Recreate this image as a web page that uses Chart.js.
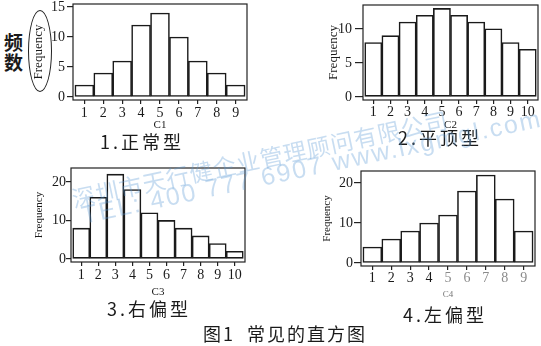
<!DOCTYPE html>
<html>
<head>
<meta charset="utf-8">
<script src="https://cdn.jsdelivr.net/npm/chart.js@4"></script>
<style>
    body { margin: 0; width: 541px; height: 346px; background: #fff; position: relative; overflow: hidden; }
    canvas { position: absolute; }
    .txt { position: absolute; white-space: nowrap; color: #1a1a1a; font-family: "Noto Sans CJK SC", sans-serif; }
    .caption { font-size: 18px; line-height: 20px; letter-spacing: 3px; }
    .wm { position: absolute; white-space: nowrap; color: rgba(95, 155, 215, 0.34); transform-origin: 0 50%; transform: rotate(-12deg); line-height: 24px; }
</style>
</head>
<body>

<canvas id="h1"></canvas>
<canvas id="h2"></canvas>
<canvas id="h3"></canvas>
<canvas id="h4"></canvas>

<div class="txt" style="left:4px; top:32px; font-size:19px; line-height:20px; font-weight:bold;">频<br>数</div>
<div style="position:absolute; left:28px; top:10px; width:22px; height:80px; border:1.5px solid #222; border-radius:50%;"></div>

<div class="txt caption" style="left:100px; top:131px;">1.正常型</div>
<div class="txt caption" style="left:398px; top:127px;">2.平顶型</div>
<div class="txt caption" style="left:107px; top:298px;">3.右偏型</div>
<div class="txt caption" style="left:403px; top:304px;">4.左偏型</div>
<div class="txt" style="left:203px; top:323px; font-size:18px; line-height:20px; letter-spacing:2px; word-spacing:6px;">图1 常见的直方图</div>

<div class="wm" style="left:72px; top:186px; font-family:'Noto Sans CJK SC'; font-size:23px; letter-spacing:1px;">深圳市天行健企业管理顾问有限公司</div>
<div class="wm" style="left:82px; top:203px; font-family:'Liberation Sans'; font-size:25px; letter-spacing:2px;">TEL: 400 777 6907 www.lxgmgl.com</div>

<script>
// date histograme
const c1Bins = [1, 2, 3, 4, 5, 6, 7, 8, 9];
const c1Freq = [2, 4, 6, 12, 14, 10, 6, 4, 2];
const c1Ticks = [0, 5, 10, 15];

const c2Bins = [1, 2, 3, 4, 5, 6, 7, 8, 9, 10];
const c2Freq = [8, 9, 11, 12, 13, 12, 11, 10, 8, 7];
const c2Ticks = [0, 5, 10];

const c3Bins = [1, 2, 3, 4, 5, 6, 7, 8, 9, 10];
const c3Freq = [8, 16, 22, 18, 12, 10, 8, 6, 4, 2];
const c3Ticks = [0, 10, 20];

const c4Bins = [1, 2, 3, 4, 5, 6, 7, 8, 9];
const c4Freq = [4, 6, 8, 10, 12, 18, 22, 16, 8];
const c4Ticks = [0, 10, 20];

const yTitle = 'Frequency';
const serif = '"Liberation Serif", "DejaVu Serif", serif';

// rama din jurul zonei graficului
const ramaPlugin = {
    id: 'rama',
    afterDatasetsDraw(chart) {
        const a = chart.chartArea;
        const ctx = chart.ctx;
        ctx.save();
        ctx.strokeStyle = '#222';
        ctx.lineWidth = 1.2;
        ctx.strokeRect(a.left, a.top, a.right - a.left, a.bottom - a.top);
        ctx.restore();
    }
};

function deseneazaHistograma(id, bins, freq, yTicks, xTitle, L) {
    const canvas = document.getElementById(id);
    canvas.width = L.w;
    canvas.height = L.h;
    canvas.style.left = L.left + 'px';
    canvas.style.top = L.top + 'px';

    return new Chart(canvas.getContext('2d'), {
        type: 'bar',
        data: {
            datasets: [{
                data: bins.map((b, i) => ({ x: b, y: freq[i] })),
                backgroundColor: '#fff',
                borderColor: '#1a1a1a',
                borderWidth: 1.6,
                borderSkipped: false,
                barPercentage: 1,
                categoryPercentage: 1
            }]
        },
        options: {
            responsive: false,
            animation: false,
            events: [],
            layout: { padding: { top: 14, right: L.padRight, left: 0, bottom: 0 } },
            plugins: { legend: { display: false }, tooltip: { enabled: false } },
            scales: {
                x: {
                    type: 'linear',
                    offset: false,
                    min: 0.4,
                    max: bins.length + 0.6,
                    afterBuildTicks: ax => { ax.ticks = bins.map(v => ({ value: v })); },
                    afterFit: ax => { ax.height = L.xH; },
                    grid: { offset: false, drawOnChartArea: false, tickLength: 4, color: '#222', lineWidth: 1.2 },
                    border: { display: false },
                    ticks: {
                        autoSkip: false, maxRotation: 0, padding: L.xPad,
                        font: { family: serif, size: 14 },
                        color: c => (L.fadeFrom && c.tick && c.tick.value >= L.fadeFrom) ? '#8a8a8a' : '#1a1a1a'
                    },
                    title: { display: true, text: xTitle, padding: 0, color: L.xTitleColor || '#1a1a1a', font: { family: serif, size: L.xTitleSize } }
                },
                y: {
                    min: L.yMin,
                    max: L.yMax,
                    afterBuildTicks: ax => { ax.ticks = yTicks.map(v => ({ value: v })); },
                    afterFit: ax => { ax.width = L.yW; },
                    grid: { drawOnChartArea: false, tickLength: L.yTick, color: '#222', lineWidth: 1.2 },
                    border: { display: false },
                    ticks: { padding: L.yPad, font: { family: serif, size: 14 }, color: '#1a1a1a' },
                    title: { display: true, text: yTitle, padding: 0, color: '#1a1a1a', font: { family: serif, size: L.yTitleSize } }
                }
            }
        },
        plugins: [ramaPlugin]
    });
}

deseneazaHistograma('h1', c1Bins, c1Freq, c1Ticks, 'C1', {
    left: 31, top: -10, w: 222, h: 142, padRight: 6, yW: 42, xH: 32,
    yMin: -0.5, yMax: 15.5, yTick: 6, yPad: 2, xPad: 1, yTitleSize: 13, xTitleSize: 11
});
deseneazaHistograma('h2', c2Bins, c2Freq, c2Ticks, 'C2', {
    left: 326, top: -9, w: 215, h: 141, padRight: 3, yW: 37, xH: 32,
    yMin: -0.45, yMax: 13.5, yTick: 8, yPad: 3, xPad: 0, yTitleSize: 13, xTitleSize: 11
});
deseneazaHistograma('h3', c3Bins, c3Freq, c3Ticks, 'C3', {
    left: 33, top: 154, w: 218, h: 145, padRight: 6, yW: 38, xH: 37,
    yMin: -0.78, yMax: 23.6, yTick: 5, yPad: 0, xPad: 1, yTitleSize: 11, xTitleSize: 11
});
deseneazaHistograma('h4', c4Bins, c4Freq, c4Ticks, 'C4', {
    left: 321, top: 157, w: 220, h: 143, padRight: 6, yW: 40, xH: 34,
    yMin: -0.75, yMax: 23, yTick: 7, yPad: 1, xPad: 0, yTitleSize: 11, xTitleSize: 9,
    fadeFrom: 5, xTitleColor: '#777'
});
</script>
</body>
</html>
